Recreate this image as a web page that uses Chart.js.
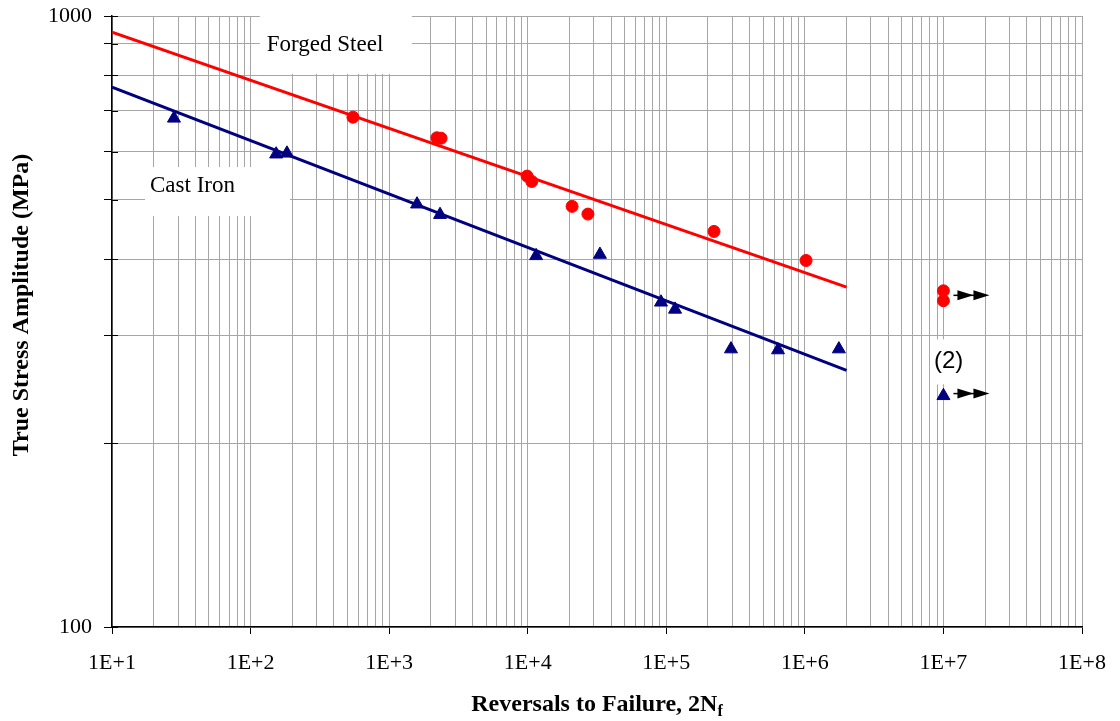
<!DOCTYPE html>
<html>
<head>
<meta charset="utf-8">
<script src="https://cdn.jsdelivr.net/npm/chart.js@4.4.0/dist/chart.umd.min.js"></script>
<style>
body { margin: 0; background: #fff; }
#wrap { width: 1120px; height: 721px; }
</style>
</head>
<body>
<div id="wrap"><canvas id="fatigueChart"></canvas></div>
<script>
// test points (2Nf, true stress amplitude MPa)
var steelLife = [548, 2210, 2370, 9900, 10700, 20900, 27200, 221000, 1020000, 1e7, 1e7];
var steelStress = [683, 632, 631, 547, 536, 488, 474, 444, 398, 355, 342];

var ironLife = [28, 153, 183, 1590, 2330, 11500, 33200, 91600, 115700, 293000, 640000, 1760000, 1e7];
var ironStress = [680, 594, 596, 492, 473, 405, 407, 340, 331, 285, 284, 285, 239];

// fitted lines, end points
var steelFitLife = [10, 2e6];
var steelFitStress = [941, 360];
var ironFitLife = [10, 2e6];
var ironFitStress = [765, 263];

// run-outs (arrows to the right)
var runoutLife = [1e7, 1e7];
var runoutStress = [349, 241];

// axes
var xDecades = [1e1, 1e2, 1e3, 1e4, 1e5, 1e6, 1e7, 1e8];
var yTicks = [100, 200, 300, 400, 500, 600, 700, 800, 900, 1000];
var yLabelled = [100, 1000];

// text labels: [text, life, stress]
var labels = [
    ['Forged Steel', 131, 877],
    ['Cast Iron', 18.8, 515],
    ['(2)', 8.55e6, 265]
];

function pts(xs, ys) {
    return xs.map(function (x, i) { return {x: x, y: ys[i]}; });
}

var xTickValues = [];
xDecades.forEach(function (d, i) {
    if (i == xDecades.length - 1) { xTickValues.push(d); return; }
    for (var k = 1; k <= 9; k++) xTickValues.push(k * d);
});

Chart.defaults.font.family = "'Liberation Serif', 'Times New Roman', serif";
Chart.defaults.color = '#000';

var boxes = {
    'Forged Steel': {l: -7, r: 145, t: -35, b: 23, font: "23px 'Liberation Serif'"},
    'Cast Iron': {l: -5, r: 140, t: -25, b: 24, font: "23px 'Liberation Serif'"},
    '(2)': {l: -4, r: 31, t: -29, b: 16, font: "24px 'Liberation Sans'"}
};

var extras = {
    id: 'extras',
    beforeDatasetsDraw: function (chart) {
        var c = chart.ctx, xs = chart.scales.x, ys = chart.scales.y;
        c.save();
        labels.forEach(function (lb) {
            var px = xs.getPixelForValue(lb[1]), py = ys.getPixelForValue(lb[2]);
            var bx = boxes[lb[0]];
            c.fillStyle = '#fff';
            c.fillRect(px + bx.l, py + bx.t, bx.r - bx.l, bx.b - bx.t);
            c.fillStyle = '#000';
            c.font = bx.font;
            c.textAlign = 'left';
            c.textBaseline = 'alphabetic';
            c.fillText(lb[0], px, py);
        });
        // inner half of the y ticks
        c.strokeStyle = '#000';
        c.lineWidth = 1;
        yTicks.forEach(function (v) {
            var py = Math.round(ys.getPixelForValue(v)) + 0.5;
            c.beginPath();
            c.moveTo(xs.left, py);
            c.lineTo(xs.left + 6, py);
            c.stroke();
        });
        c.restore();
    },
    afterDatasetsDraw: function (chart) {
        var c = chart.ctx, xs = chart.scales.x, ys = chart.scales.y;
        c.save();
        c.strokeStyle = '#000';
        c.fillStyle = '#000';
        c.lineWidth = 1.5;
        runoutLife.forEach(function (v, i) {
            var px = xs.getPixelForValue(v), py = ys.getPixelForValue(runoutStress[i]);
            c.beginPath();
            c.moveTo(px + 10, py);
            c.lineTo(px + 32, py);
            c.stroke();
            [30, 46].forEach(function (tip) {
                c.beginPath();
                c.moveTo(px + tip, py);
                c.lineTo(px + tip - 16, py - 5);
                c.lineTo(px + tip - 16, py + 5);
                c.closePath();
                c.fill();
            });
        });
        // axis titles
        var a = chart.chartArea;
        c.fillStyle = '#000';
        c.save();
        c.translate(22, 305);
        c.rotate(-Math.PI / 2);
        c.font = "bold 24px 'Liberation Serif'";
        c.textAlign = 'center';
        c.textBaseline = 'middle';
        c.fillText('True Stress Amplitude (MPa)', 0, 0);
        c.restore();
        var main = 'Reversals to Failure, 2N';
        c.font = "bold 24px 'Liberation Serif'";
        var w1 = c.measureText(main).width;
        c.font = "bold 16px 'Liberation Serif'";
        var w2 = c.measureText('f').width;
        var x0 = (a.left + a.right) / 2 - (w1 + w2) / 2;
        c.textAlign = 'left';
        c.textBaseline = 'alphabetic';
        c.font = "bold 24px 'Liberation Serif'";
        c.fillText(main, x0, 711);
        c.font = "bold 16px 'Liberation Serif'";
        c.fillText('f', x0 + w1, 716);
        c.restore();
    }
};

var ctx = document.getElementById('fatigueChart').getContext('2d');
var myChart = new Chart(ctx, {
    type: 'scatter',
    data: {
        datasets: [
            {
                label: 'Forged Steel fit',
                data: pts(steelFitLife, steelFitStress),
                showLine: true,
                borderColor: '#ff0000',
                borderWidth: 3,
                pointRadius: 0,
                order: 3
            },
            {
                label: 'Cast Iron fit',
                data: pts(ironFitLife, ironFitStress),
                showLine: true,
                borderColor: '#000080',
                borderWidth: 3,
                pointRadius: 0,
                order: 3
            },
            {
                label: 'Forged Steel',
                data: pts(steelLife, steelStress),
                pointStyle: 'circle',
                pointRadius: 6,
                backgroundColor: '#ff0000',
                borderColor: '#ff0000',
                borderWidth: 1,
                order: 1
            },
            {
                label: 'Cast Iron',
                data: pts(ironLife, ironStress),
                pointStyle: 'triangle',
                pointRadius: 7.5,
                backgroundColor: '#000080',
                borderColor: '#000080',
                borderWidth: 1,
                order: 1
            }
        ]
    },
    options: {
        responsive: true,
        maintainAspectRatio: false,
        animation: false,
        layout: { padding: { top: 16, right: 38, left: 0, bottom: 0 } },
        plugins: {
            legend: { display: false },
            tooltip: { enabled: false }
        },
        scales: {
            x: {
                type: 'logarithmic',
                min: 10,
                max: 1e8,
                afterBuildTicks: function (scale) {
                    scale.ticks = xTickValues.map(function (v) { return {value: v}; });
                },
                afterFit: function (scale) {
                    scale.height = 94;
                    scale.paddingLeft = 0;
                    scale.paddingRight = 0;
                },
                ticks: {
                    autoSkip: false,
                    maxRotation: 0,
                    padding: 16,
                    font: { size: 22 },
                    callback: function (v) {
                        if (xDecades.indexOf(v) < 0) return '';
                        return '1E+' + Math.round(Math.log10(v));
                    }
                },
                grid: {
                    color: '#a6a6a6',
                    lineWidth: 1,
                    tickLength: 7,
                    tickColor: function (c) {
                        return c.tick && xDecades.indexOf(c.tick.value) >= 0 ? '#000' : 'rgba(0,0,0,0)';
                    }
                },
                border: { display: true, color: '#000', width: 1.5 }
            },
            y: {
                type: 'logarithmic',
                min: 100,
                max: 1000,
                afterBuildTicks: function (scale) {
                    scale.ticks = yTicks.map(function (v) { return {value: v}; });
                },
                afterFit: function (scale) {
                    scale.width = 112;
                    scale.paddingTop = 0;
                    scale.paddingBottom = 0;
                },
                ticks: {
                    autoSkip: false,
                    padding: 12,
                    font: { size: 22 },
                    callback: function (v) {
                        return yLabelled.indexOf(v) >= 0 ? String(v) : '';
                    }
                },
                grid: {
                    color: '#a6a6a6',
                    lineWidth: 1,
                    tickLength: 8,
                    tickColor: '#000'
                },
                border: { display: true, color: '#000', width: 1.5 }
            }
        }
    },
    plugins: [extras]
});
</script>
</body>
</html>
